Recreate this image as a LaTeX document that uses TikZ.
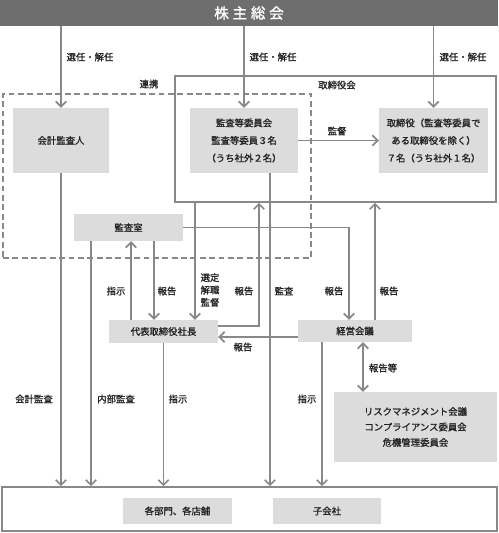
\documentclass[tikz,border=0pt]{standalone}
\usepackage{fontspec}
\setmainfont{Noto Sans CJK JP}[FakeBold=1.2]
\usepackage{xcolor}
\usetikzlibrary{arrows.meta,calc,positioning}
\definecolor{bargray}{HTML}{6E6E6E}
\definecolor{boxgray}{HTML}{DCDCDC}
\definecolor{linegray}{HTML}{888888}
\definecolor{txt}{HTML}{222222}
\tikzset{%
	block/.style    = {fill=boxgray, rectangle, inner sep=0pt, align=center, text=txt, font=\fontsize{8}{15}\selectfont},
	frame/.style    = {draw=linegray, line width=1.3pt, rectangle, inner sep=0pt},
	lbl/.style      = {text=txt, font=\fontsize{8}{10.6}\selectfont, inner sep=0pt, align=center},
	arr/.style      = {draw=linegray, line width=1.4pt, -{Straight Barb[length=4.5pt,width=9pt]}},
	biarr/.style    = {draw=linegray, line width=1.4pt, {Straight Barb[length=4.5pt,width=9pt]}-{Straight Barb[length=4.5pt,width=9pt]}},
}
\begin{document}
\begin{tikzpicture}[x=0.03cm,y=-0.03cm]
	\useasboundingbox (0,0) rectangle (498,533);
	% frames
	\node [frame, minimum width=9.63cm, minimum height=3.78cm] (tk) at (335.5,139) {};
	\node [frame, dashed, dash pattern=on 5pt off 3pt, minimum width=9.24cm, minimum height=4.92cm] (rk) at (157,176) {};
	\node [frame, fill=white, minimum width=14.85cm, minimum height=1.32cm] (btm) at (249.5,509) {};
	\node [lbl] (tkl) at (337,85) {取締役会};
	\node [lbl] (rkl) at (149,84) {連携};
	% boxes
	\node [rectangle, fill=bargray, inner sep=0pt, minimum width=14.94cm, minimum height=0.78cm, text=white,
		font=\addfontfeature{LetterSpace=25}\fontsize{12.5}{14}\selectfont] (sk) at (249,13) {株主総会};
	\node [block, minimum width=2.88cm, minimum height=1.95cm] (kk) at (61,140.5) {会計監査人};
	\node [block, minimum width=3.24cm, minimum height=1.95cm] (ks) at (244,140.5) {監査等委員会\\監査等委員３名\\（うち社外２名）};
	\node [block, minimum width=3.27cm, minimum height=1.95cm] (tr) at (433.5,140.5) {取締役（監査等委員で\\ある取締役を除く）\\７名（うち社外１名）};
	\node [block, minimum width=3.27cm, minimum height=0.81cm] (ksh) at (128.5,227.5) {監査室};
	\node [block, minimum width=3.27cm, minimum height=0.69cm] (sh) at (163.5,331.5) {代表取締役社長};
	\node [block, minimum width=3.42cm, minimum height=0.66cm] (kg) at (355,331) {経営会議};
	\node [block, minimum width=4.89cm, minimum height=2.1cm, font=\fontsize{8}{13.2}\selectfont] (rm) at (415.5,427) {リスクマネジメント会議\\コンプライアンス委員会\\危機管理委員会};
	\node [block, minimum width=3.27cm, minimum height=0.78cm] (bm) at (177.5,511) {各部門、各店舗};
	\node [block, minimum width=3.24cm, minimum height=0.78cm] (kgs) at (327,511) {子会社};

	% connectors
	\draw [arr] (kk.north |- sk.south) -- (kk.north);
	\draw [arr] (ks.north |- sk.south) -- (ks.north);
	\draw [arr] (tr.north |- sk.south) -- (tr.north);
	\draw [arr] (ks.east) -- (tr.west);
	\draw [arr] (kk.south) -- (kk.south |- btm.north);
	\draw [arr] ($(ksh.south)+(-37.5,0)$) coordinate (a1) -- (a1 |- btm.north);
	\draw [arr] ($(sh.north)+(-32.5,0)$) coordinate (a2) -- (a2 |- ksh.south);
	\draw [arr] ($(ksh.south)+(25.5,0)$) coordinate (a3) -- (a3 |- sh.north);
	\draw [arr] ($(tk.south)+(-140.5,0)$) coordinate (a4) -- (a4 |- sh.north);
	\draw [arr] ($(sh.east)+(0,-5.5)$) -| ($(tk.south)+(-76.5,0)$);
	\draw [arr] ($(ks.south)+(26,0)$) coordinate (a5) -- (a5 |- btm.north);
	\draw [arr] (ksh.east) -| ($(kg.north)+(-6,0)$);
	\draw [arr] ($(kg.north)+(20,0)$) coordinate (a6) -- (a6 |- tk.south);
	\draw [arr] ($(kg.west)+(0,6)$) coordinate (a7) -- (a7 -| sh.east);
	\draw [arr] ($(kg.south)+(-33,0)$) coordinate (a8) -- (a8 |- btm.north);
	\draw [biarr] ($(kg.south)+(8,0)$) coordinate (a9) -- (a9 |- rm.north);
	\draw [arr] (sh.south) -- (sh.south |- btm.north);

	% labels
	\node [lbl] (l1) at (90,57) {選任・解任};
	\node [lbl] (l2) at (273,57) {選任・解任};
	\node [lbl] (l3) at (463,57) {選任・解任};
	\node [lbl] (l4) at (337,131) {監督};
	\node [lbl] (l5) at (116,291) {指示};
	\node [lbl] (l6) at (167,291) {報告};
	\node [lbl] (l7) at (210,290) {選定\\解職\\監督};
	\node [lbl] (l8) at (244,291) {報告};
	\node [lbl] (l9) at (284,291) {監査};
	\node [lbl] (l10) at (334,291) {報告};
	\node [lbl] (l11) at (389,291) {報告};
	\node [lbl] (l12) at (243,347) {報告};
	\node [lbl] (l13) at (383,368) {報告等};
	\node [lbl] (l14) at (34,399) {会計監査};
	\node [lbl] (l15) at (116,399) {内部監査};
	\node [lbl] (l16) at (178,399) {指示};
	\node [lbl] (l17) at (307,399) {指示};
\end{tikzpicture}
\end{document}
